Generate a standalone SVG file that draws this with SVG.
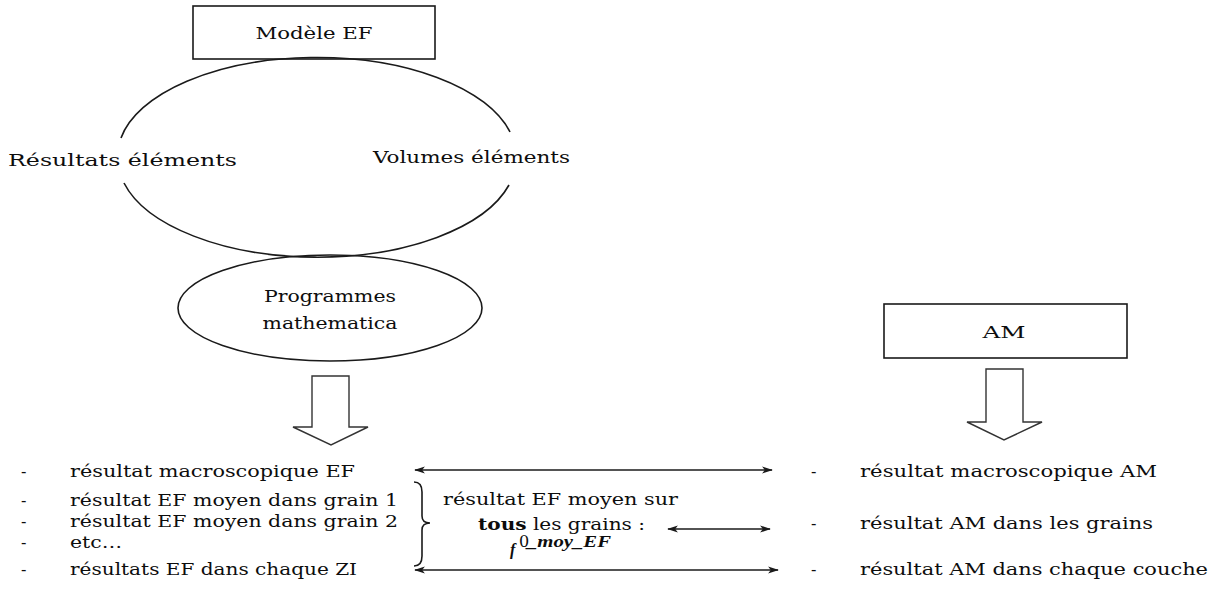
<svg xmlns="http://www.w3.org/2000/svg" width="1222" height="610" viewBox="0 0 1222 610">
  <style>
    text { font-family: "DejaVu Serif", "Liberation Serif", serif; font-size: 16px; fill: #0d0d0d; }
    .c { text-anchor: middle; }
    .box { fill: #fff; stroke: #1a1a1a; stroke-width: 1.6; }
    .outline { fill: none; stroke: #1a1a1a; stroke-width: 1.6; }
    .fat { fill: #fff; stroke: #333; stroke-width: 1.4; stroke-linejoin: miter; }
    .link { fill: none; stroke: #1a1a1a; stroke-width: 1.5; marker-start: url(#tip); marker-end: url(#tip); }
    .math { font-family: "Liberation Serif", serif; font-style: italic; font-weight: bold; }
  </style>
  <defs>
    <marker id="tip" viewBox="0 0 12 10" refX="11" refY="5" markerWidth="12" markerHeight="9" orient="auto-start-reverse" markerUnits="userSpaceOnUse">
      <path d="M0,1 L12,5 L0,9 L3,5 Z" fill="#1a1a1a"/>
    </marker>
  </defs>

  <!-- FE model box -->
  <g id="modele-ef">
    <rect class="box" x="193" y="6" width="242" height="53"/>
    <text class="c" x="314" y="39" font-size="17" textLength="117" lengthAdjust="spacingAndGlyphs">Modèle EF</text>
  </g>

  <!-- outer loop between element results and element volumes -->
  <g id="boucle-elements">
    <path class="outline" d="M121,138 A199,98 0 0 1 510,132"/>
    <path class="outline" d="M124,183 A199,98 0 0 0 509,185"/>
  </g>
  <g id="resultats-elements">
    <text x="8" y="166" textLength="229" lengthAdjust="spacingAndGlyphs">Résultats éléments</text>
  </g>
  <g id="volumes-elements">
    <text x="373" y="163" textLength="197" lengthAdjust="spacingAndGlyphs">Volumes éléments</text>
  </g>

  <!-- Mathematica programs -->
  <g id="programmes">
    <ellipse class="outline" cx="330" cy="308" rx="152" ry="53"/>
    <text class="c" x="330" y="302" textLength="132" lengthAdjust="spacingAndGlyphs">Programmes</text>
    <text class="c" x="330" y="329" textLength="135" lengthAdjust="spacingAndGlyphs">mathematica</text>
  </g>

  <!-- AM box -->
  <g id="am">
    <rect class="box" x="884" y="304" width="243" height="54"/>
    <text class="c" x="1004" y="338" textLength="43" lengthAdjust="spacingAndGlyphs">AM</text>
  </g>

  <!-- block arrows -->
  <g id="fleche-ef">
    <polygon class="fat" points="312,376 349,376 349,427 368,427 331,445 293,427 312,427"/>
  </g>
  <g id="fleche-am">
    <polygon class="fat" points="986,369 1023,369 1023,422 1042,422 1004,440 967,422 986,422"/>
  </g>

  <!-- FE result list -->
  <g id="liste-ef">
    <text x="21" y="477">-</text>
    <text x="70" y="477" textLength="285" lengthAdjust="spacingAndGlyphs">résultat macroscopique EF</text>
    <text x="21" y="506">-</text>
    <text x="70" y="506" textLength="328" lengthAdjust="spacingAndGlyphs">résultat EF  moyen dans grain 1</text>
    <text x="21" y="527">-</text>
    <text x="70" y="527" textLength="328" lengthAdjust="spacingAndGlyphs">résultat EF  moyen dans grain 2</text>
    <text x="21" y="548">-</text>
    <text x="70" y="548" textLength="52" lengthAdjust="spacingAndGlyphs">etc…</text>
    <text x="21" y="575">-</text>
    <text x="70" y="575" textLength="287" lengthAdjust="spacingAndGlyphs">résultats EF  dans chaque ZI</text>
  </g>

  <!-- grain average -->
  <g id="moyenne-grains">
    <path class="outline" d="M414,482 Q422,482 422,492 L422,516 Q422,523 430,523 Q422,523 422,530 L422,556 Q422,566 414,566"/>
    <text x="443" y="505" textLength="235" lengthAdjust="spacingAndGlyphs">résultat EF  moyen sur</text>
    <text x="478" y="530" textLength="167" lengthAdjust="spacingAndGlyphs"><tspan font-weight="bold">tous</tspan> les grains :</text>
    <text class="math" x="510" y="555" font-size="20">f</text>
    <text x="519" y="547" font-size="13">0</text>
    <text class="math" x="527" y="547" font-size="12" textLength="84" lengthAdjust="spacingAndGlyphs">_moy_EF</text>
  </g>

  <!-- AM result list -->
  <g id="liste-am">
    <text x="811" y="477">-</text>
    <text x="860" y="477" textLength="297" lengthAdjust="spacingAndGlyphs">résultat macroscopique AM</text>
    <text x="811" y="529">-</text>
    <text x="860" y="529" textLength="293" lengthAdjust="spacingAndGlyphs">résultat AM dans les grains</text>
    <text x="811" y="575">-</text>
    <text x="860" y="575" textLength="348" lengthAdjust="spacingAndGlyphs">résultat AM dans chaque couche</text>
  </g>

  <!-- correspondences -->
  <g id="liens">
    <line class="link" x1="415" y1="470" x2="772" y2="470"/>
    <line class="link" x1="668" y1="529" x2="770" y2="529"/>
    <line class="link" x1="415" y1="570" x2="778" y2="570"/>
  </g>
</svg>
